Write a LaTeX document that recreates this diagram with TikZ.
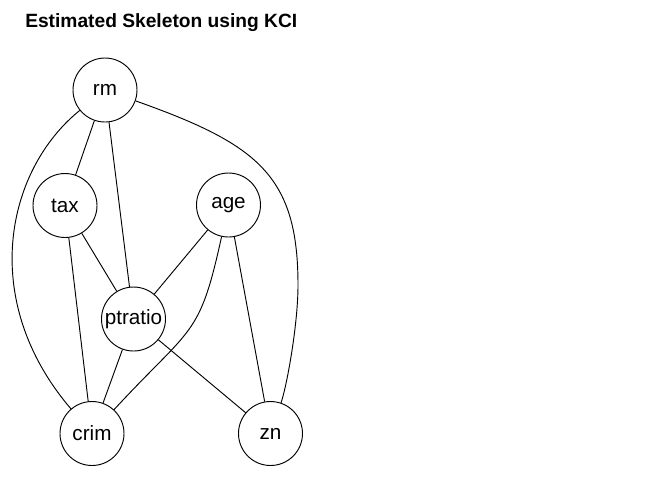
\documentclass[tikz,border=0pt]{standalone}
\usepackage{fontspec}
\setmainfont{Liberation Sans}

\begin{document}
\begin{tikzpicture}[x=0.75pt,y=0.75pt,yscale=-1,xscale=1,
  var/.style={draw,circle,minimum size=48pt,inner sep=0pt,line width=0.7pt,font=\fontsize{15.5}{18}\selectfont},
  edge/.style={line width=0.7pt}]
\useasboundingbox (0,0) rectangle (646,494);

% Text Node
\node [anchor=base west,inner sep=0pt,font=\bfseries\fontsize{14.4}{17}\selectfont] (title) at (25,27.3) {Estimated Skeleton using KCI};

% Circle Nodes
\node [var] (rm) at (105,90) {rm};
\node [var] (tax) at (65,205.5) {tax};
\node [var] (age) at (228.5,205) {age};
\node [var] (ptratio) at (133.5,319) {ptratio};
\node [var] (crim) at (92,433.5) {crim};
\node [var] (zn) at (270.5,433.5) {zn};

%Straight Lines
\draw [edge] (rm) -- (tax);
\draw [edge] (rm) -- (ptratio);
\draw [edge] (tax) -- (ptratio);
\draw [edge] (tax) -- (crim);
\draw [edge] (age) -- (ptratio);
\draw [edge] (age) -- (zn);
\draw [edge] (ptratio) -- (crim);
\draw [edge] (ptratio) -- (zn);

%Curves
\draw [edge] (rm) .. controls (6,170) and (-22,300) .. (crim);
\coordinate (rmzn) at (298,285);
\draw [edge] (rm) .. controls (257,144) and (298,175) .. (rmzn) .. controls (298,325) and (286.75,386.2) .. (zn);
\draw [edge] (age) .. controls (199.3,338.5) and (192.4,324.8) .. (crim);

\end{tikzpicture}
\end{document}
